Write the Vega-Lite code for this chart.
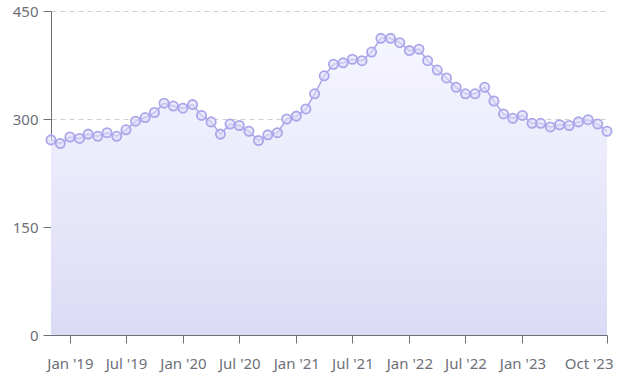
{
  "$schema": "https://vega.github.io/schema/vega-lite/v6.json",
  "width": 556,
  "height": 324,
  "autosize": {"type": "none"},
  "padding": {"left": 51, "top": 11, "right": 13, "bottom": 47},
  "background": "white",
  "config": {
    "view": {"stroke": null},
    "font": "Noto Sans",
    "axis": {"labelFont": "Noto Sans", "labelColor": "#6e7079", "labelFontSize": 15, "domainColor": "#6e7079", "tickColor": "#6e7079", "title": null}
  },
  "data": {"values": [
    {"date": "2018-11-01", "value": 271},
    {"date": "2018-12-01", "value": 266},
    {"date": "2019-01-01", "value": 275},
    {"date": "2019-02-01", "value": 273},
    {"date": "2019-03-01", "value": 279},
    {"date": "2019-04-01", "value": 276},
    {"date": "2019-05-01", "value": 281},
    {"date": "2019-06-01", "value": 276},
    {"date": "2019-07-01", "value": 285},
    {"date": "2019-08-01", "value": 297},
    {"date": "2019-09-01", "value": 302},
    {"date": "2019-10-01", "value": 309},
    {"date": "2019-11-01", "value": 322},
    {"date": "2019-12-01", "value": 318},
    {"date": "2020-01-01", "value": 315},
    {"date": "2020-02-01", "value": 320},
    {"date": "2020-03-01", "value": 305},
    {"date": "2020-04-01", "value": 296},
    {"date": "2020-05-01", "value": 279},
    {"date": "2020-06-01", "value": 293},
    {"date": "2020-07-01", "value": 291},
    {"date": "2020-08-01", "value": 283},
    {"date": "2020-09-01", "value": 270},
    {"date": "2020-10-01", "value": 278},
    {"date": "2020-11-01", "value": 281},
    {"date": "2020-12-01", "value": 300},
    {"date": "2021-01-01", "value": 304},
    {"date": "2021-02-01", "value": 314},
    {"date": "2021-03-01", "value": 335},
    {"date": "2021-04-01", "value": 360},
    {"date": "2021-05-01", "value": 376},
    {"date": "2021-06-01", "value": 378},
    {"date": "2021-07-01", "value": 383},
    {"date": "2021-08-01", "value": 381},
    {"date": "2021-09-01", "value": 393},
    {"date": "2021-10-01", "value": 412},
    {"date": "2021-11-01", "value": 412},
    {"date": "2021-12-01", "value": 406},
    {"date": "2022-01-01", "value": 395},
    {"date": "2022-02-01", "value": 397},
    {"date": "2022-03-01", "value": 381},
    {"date": "2022-04-01", "value": 368},
    {"date": "2022-05-01", "value": 357},
    {"date": "2022-06-01", "value": 344},
    {"date": "2022-07-01", "value": 335},
    {"date": "2022-08-01", "value": 335},
    {"date": "2022-09-01", "value": 344},
    {"date": "2022-10-01", "value": 325},
    {"date": "2022-11-01", "value": 307},
    {"date": "2022-12-01", "value": 301},
    {"date": "2023-01-01", "value": 305},
    {"date": "2023-02-01", "value": 294},
    {"date": "2023-03-01", "value": 294},
    {"date": "2023-04-01", "value": 289},
    {"date": "2023-05-01", "value": 292},
    {"date": "2023-06-01", "value": 291},
    {"date": "2023-07-01", "value": 296},
    {"date": "2023-08-01", "value": 299},
    {"date": "2023-09-01", "value": 293},
    {"date": "2023-10-01", "value": 283}
  ]},
  "encoding": {
    "x": {
      "field": "date", "type": "temporal",
      "scale": {"type": "utc", "domain": [{"year": 2018, "month": 11, "date": 1, "utc": true}, {"year": 2023, "month": 10, "date": 1, "utc": true}]},
      "axis": {
        "values": [
          {"year": 2019, "month": 1, "date": 1, "utc": true},
          {"year": 2019, "month": 7, "date": 1, "utc": true},
          {"year": 2020, "month": 1, "date": 1, "utc": true},
          {"year": 2020, "month": 7, "date": 1, "utc": true},
          {"year": 2021, "month": 1, "date": 1, "utc": true},
          {"year": 2021, "month": 7, "date": 1, "utc": true},
          {"year": 2022, "month": 1, "date": 1, "utc": true},
          {"year": 2022, "month": 7, "date": 1, "utc": true},
          {"year": 2023, "month": 1, "date": 1, "utc": true},
          {"year": 2023, "month": 10, "date": 1, "utc": true}
        ],
        "labelExpr": "utcFormat(datum.value, \"%b '%y\")",
        "grid": false, "tickSize": 8, "labelPadding": 13, "labelFlush": true, "labelFlushOffset": 6, "labelOverlap": false
      }
    },
    "y": {
      "field": "value", "type": "quantitative",
      "scale": {"domain": [0, 450], "nice": false},
      "axis": {"values": [0, 150, 300, 450], "grid": true, "gridColor": "#d0d0d0", "gridDash": [5, 4], "tickSize": 8, "labelPadding": 5}
    }
  },
  "layer": [
    {
      "mark": {"type": "area", "line": false, "fill": {"gradient": "linear", "x1": 0, "y1": 0, "x2": 0, "y2": 1, "stops": [{"offset": 0, "color": "#f6f6ff"}, {"offset": 1, "color": "#dcdbf6"}]}}
    },
    {
      "mark": {"type": "line", "color": "#aba6ea", "strokeWidth": 1.5}
    },
    {
      "mark": {"type": "point", "shape": "circle", "size": 85, "filled": true, "fill": "#dedcf8", "fillOpacity": 0.6, "stroke": "#aba6ea", "strokeWidth": 1.8, "opacity": 1}
    }
  ]
}
